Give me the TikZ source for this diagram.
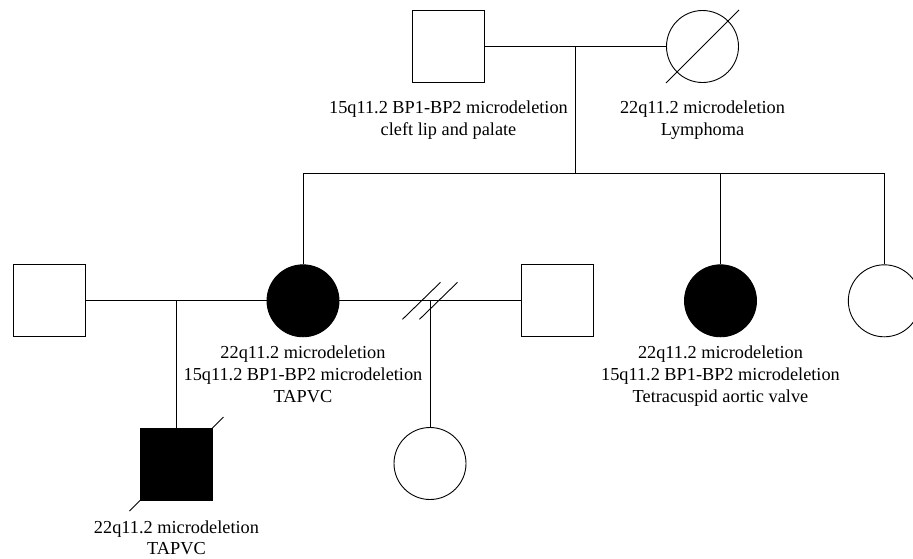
\documentclass[tikz,border=0pt]{standalone}
\usepackage{fontspec}
\setmainfont{Liberation Serif}
\begin{document}
\begin{tikzpicture}[x=1pt, y=-1pt, line width=0.9pt,
    male/.style={rectangle, draw, minimum size=72pt, inner sep=0pt},
    female/.style={circle, draw, minimum size=72pt, inner sep=0pt},
    affected/.style={fill=black},
    note/.style={anchor=north, inner sep=0pt, align=center, font=\fontsize{18.3}{21.6}\selectfont}]
    \useasboundingbox (0,0) rectangle (913,558);

    % generation I
    \node[male] (GF) at (448.5,46.5) {};
    \node[female] (GM) at (702.5,46.5) {};
    \draw ([shift={(-36.5,36.5)}]GM.center) -- ([shift={(36.5,-36.5)}]GM.center);
    \coordinate (c1) at (575.7,46.5);
    \coordinate (sib) at (575.7,173.3);
    \draw (GF) -- (GM);
    \draw (c1) -- (sib);
    \node[note] (tGF) at (448.5,100.8) {15q11.2 BP1-BP2 microdeletion\\cleft lip and palate};
    \node[note] (tGM) at (702.5,100.8) {22q11.2 microdeletion\\Lymphoma};

    % generation II
    \node[male] (H1) at (49,300.8) {};
    \node[female, affected] (II2) at (303,300.8) {};
    \node[male] (H2) at (557,300.8) {};
    \node[female, affected] (II4) at (720.5,300.8) {};
    \node[female] (II5) at (884.3,300.8) {};
    \draw (II2.north) |- (sib) -| (II5.north);
    \draw (II4.north) -- (II4.north |- sib);
    \node[note] (tII2) at (303,345.8) {22q11.2 microdeletion\\15q11.2 BP1-BP2 microdeletion\\TAPVC};
    \node[note] (tII4) at (720.5,345.8) {22q11.2 microdeletion\\15q11.2 BP1-BP2 microdeletion\\Tetracuspid aortic valve};

    % couples and generation III
    \coordinate (c2) at (176.5,300.8);
    \coordinate (c3) at (430,300.8);
    \node[male, affected] (III1) at (176.5,464) {};
    \node[female] (III2) at (430,463.5) {};
    \draw (H1) -- (II2);
    \draw (II2) -- (H2);
    \draw (c2) -- (III1);
    \draw (c3) -- (III2);
    \draw ([shift={(-27.5,18.5)}]c3) -- ([shift={(10.5,-18.5)}]c3);
    \draw ([shift={(-10.5,18.5)}]c3) -- ([shift={(27.5,-18.5)}]c3);
    \draw ([shift={(-47,47)}]III1.center) -- ([shift={(47,-47)}]III1.center);
    \node[note] (tIII1) at (176.5,520) {22q11.2 microdeletion\\TAPVC};
\end{tikzpicture}
\end{document}
